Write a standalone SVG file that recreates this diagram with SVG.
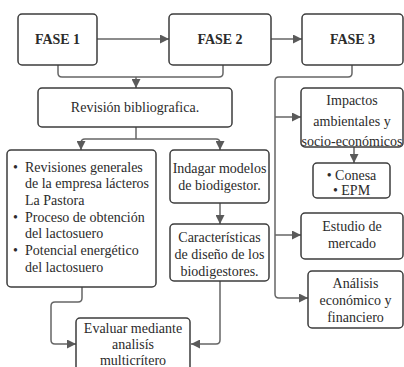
<svg xmlns="http://www.w3.org/2000/svg" width="404" height="367" viewBox="0 0 404 367">
  <style>
    .box { fill: #ffffff; stroke: #3c3c3c; stroke-width: 1.5; }
    .lbl { font-size: 14px; fill: #2b2b2b; text-anchor: middle; }
    .left { text-anchor: start; }
    .bold { font-weight: bold; }
    .conn { fill: none; stroke: #666666; stroke-width: 1.5; }
  </style>
  <defs>
    <marker id="arrow" markerUnits="userSpaceOnUse" markerWidth="9" markerHeight="9" refX="9" refY="4.5" orient="auto">
      <path d="M0,0 L9,4.5 L0,9 z" fill="#5a5a5a"/>
    </marker>
  </defs>
  <rect width="404" height="367" fill="#ffffff"/>

  <!-- connectors -->
  <g id="connectors" class="conn">
    <path d="M97,39 H169" marker-end="url(#arrow)"/>
    <path d="M271,39 H302" marker-end="url(#arrow)"/>
    <path d="M58,65 V73 q0,4 4,4 H219 q4,0 4,-4 V65"/>
    <path d="M136,77 V88" marker-end="url(#arrow)"/>
    <path d="M136,127 V139"/>
    <path d="M81,143 q0,-4 4,-4 H216 q4,0 4,4"/>
    <path d="M81,142 V150" marker-end="url(#arrow)"/>
    <path d="M220,142 V150" marker-end="url(#arrow)"/>
    <path d="M220,203 V224" marker-end="url(#arrow)"/>
    <path d="M82,287 V298 q0,4 -4,4 H55 q-4,0 -4,4 V340 q0,4 4,4 H76" marker-end="url(#arrow)"/>
    <path d="M220,281 V340 q0,4 -4,4 H191" marker-end="url(#arrow)"/>
    <path d="M352,65 V73 q0,4 -4,4 H279 q-4,0 -4,4 V294 q0,4 4,4 H308" marker-end="url(#arrow)"/>
    <path d="M275,117 H301" marker-end="url(#arrow)"/>
    <path d="M275,235 H301" marker-end="url(#arrow)"/>
    <path d="M354,147 V163" marker-end="url(#arrow)"/>
  </g>

  <g font-family="'Liberation Serif', 'DejaVu Serif', serif">
  <g id="fase1">
    <rect class="box" x="18" y="14" width="79" height="51" rx="4"/>
    <text class="lbl bold" x="57.5" y="44">FASE 1</text>
  </g>
  <g id="fase2">
    <rect class="box" x="169" y="14" width="102" height="51" rx="4"/>
    <text class="lbl bold" x="220" y="44">FASE 2</text>
  </g>
  <g id="fase3">
    <rect class="box" x="302" y="14" width="101" height="51" rx="4"/>
    <text class="lbl bold" x="352.5" y="44">FASE 3</text>
  </g>

  <g id="revision">
    <rect class="box" x="38" y="88" width="194" height="39" rx="4"/>
    <text class="lbl" x="135" y="112">Revisión bibliografica.</text>
  </g>

  <g id="revisiones">
    <rect class="box" x="7" y="150" width="149" height="137" rx="4"/>
    <text class="lbl left" x="13" y="172">•</text>
    <text class="lbl left" x="25" y="172">Revisiones generales</text>
    <text class="lbl left" x="25" y="188">de la empresa lácteros</text>
    <text class="lbl left" x="25" y="205">La Pastora</text>
    <text class="lbl left" x="13" y="222">•</text>
    <text class="lbl left" x="25" y="222">Proceso de obtención</text>
    <text class="lbl left" x="25" y="238">del lactosuero</text>
    <text class="lbl left" x="13" y="255">•</text>
    <text class="lbl left" x="25" y="255">Potencial energético</text>
    <text class="lbl left" x="25" y="272">del lactosuero</text>
  </g>

  <g id="indagar">
    <rect class="box" x="170" y="150" width="99" height="53" rx="4"/>
    <text class="lbl" x="219.5" y="173">Indagar modelos</text>
    <text class="lbl" x="219.5" y="190">de biodigestor.</text>
  </g>

  <g id="caracteristicas">
    <rect class="box" x="170" y="224" width="99" height="57" rx="4"/>
    <text class="lbl" x="219.5" y="242">Características</text>
    <text class="lbl" x="219.5" y="259">de diseño de  los</text>
    <text class="lbl" x="219.5" y="276">biodigestores.</text>
  </g>

  <g id="evaluar">
    <rect class="box" x="76" y="318" width="114" height="56" rx="4"/>
    <text class="lbl" x="133" y="333">Evaluar mediante</text>
    <text class="lbl" x="133" y="349">analisís</text>
    <text class="lbl" x="133" y="365">multicrítero</text>
  </g>

  <g id="impactos">
    <rect class="box" x="301" y="88" width="102" height="59" rx="4"/>
    <text class="lbl" x="352" y="105">Impactos</text>
    <text class="lbl" x="352" y="126">ambientales y</text>
    <text class="lbl" x="352" y="146">socio-económicos</text>
  </g>

  <g id="conesa">
    <rect class="box" x="313" y="163" width="77" height="35" rx="4"/>
    <text class="lbl" x="351.5" y="180">• Conesa</text>
    <text class="lbl" x="351.5" y="195">• EPM</text>
  </g>

  <g id="estudio">
    <rect class="box" x="301" y="213" width="102" height="46" rx="4"/>
    <text class="lbl" x="352" y="231">Estudio de</text>
    <text class="lbl" x="352" y="248">mercado</text>
  </g>

  <g id="analisis">
    <rect class="box" x="308" y="271" width="95" height="57" rx="4"/>
    <text class="lbl" x="355.5" y="288">Análisis</text>
    <text class="lbl" x="355.5" y="305">económico y</text>
    <text class="lbl" x="355.5" y="322">financiero</text>
  </g>
  </g>
</svg>
